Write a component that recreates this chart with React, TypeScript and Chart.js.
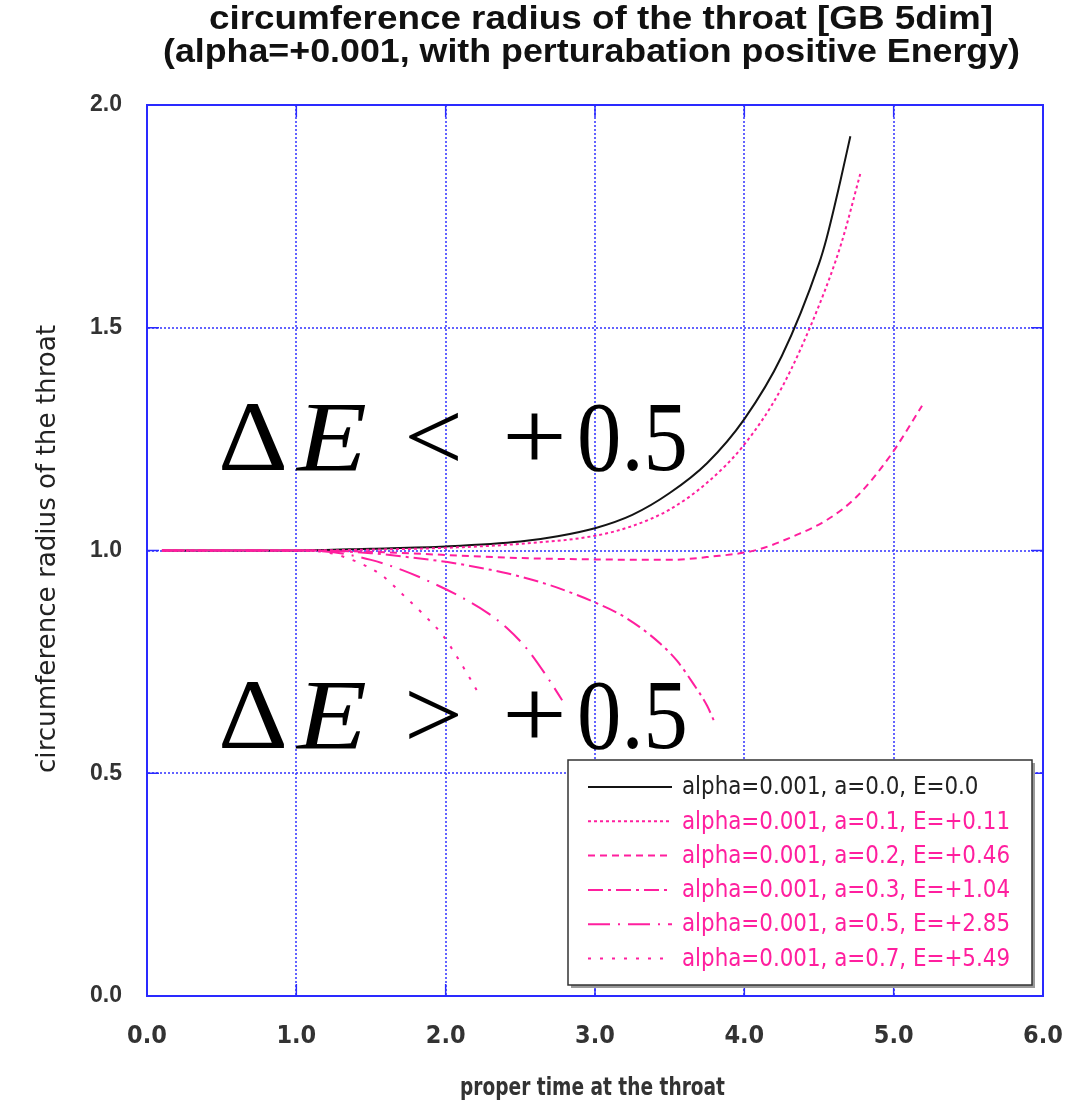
import React, { useEffect, useRef } from "react";
import { Chart, registerables } from "chart.js";

Chart.register(...registerables);

// ---------- texts ----------
const titleLines = [
  "circumference radius of the throat [GB 5dim]",
  "(alpha=+0.001, with perturabation positive Energy)",
];
const xAxisTitle = "proper time at the throat";
const yAxisTitle = "circumference radius of the throat";
const annotationUpper = ["Δ", "E", "<", "+", "0.5"];
const annotationLower = ["Δ", "E", ">", "+", "0.5"];

// ---------- ticks ----------
const xTickValues = [0, 1, 2, 3, 4, 5, 6];
const yTickValues = [0, 0.5, 1.0, 1.5, 2.0];

// ---------- series ----------
const seriesLabels = [
  "alpha=0.001, a=0.0, E=0.0",
  "alpha=0.001, a=0.1, E=+0.11",
  "alpha=0.001, a=0.2, E=+0.46",
  "alpha=0.001, a=0.3, E=+1.04",
  "alpha=0.001, a=0.5, E=+2.85",
  "alpha=0.001, a=0.7, E=+5.49",
];

const timeA00 = [0.1, 0.5, 1.0, 1.5, 2.0, 2.5, 2.75, 3.0, 3.25, 3.5, 3.75, 4.0, 4.25, 4.5, 4.55, 4.64, 4.71];
const radiusA00 = [1.0, 1.0, 1.0, 1.004, 1.009, 1.02, 1.032, 1.05, 1.08, 1.129, 1.196, 1.295, 1.436, 1.644, 1.7, 1.825, 1.93];

const timeA01 = [0.1, 0.5, 1.0, 1.5, 2.0, 2.5, 3.0, 3.25, 3.5, 3.75, 4.0, 4.25, 4.5, 4.65, 4.78];
const radiusA01 = [1.0, 1.0, 1.0, 1.002, 1.006, 1.015, 1.033, 1.055, 1.092, 1.152, 1.238, 1.365, 1.55, 1.69, 1.85];

const timeA02 = [0.1, 1.0, 1.5, 2.0, 2.5, 3.0, 3.5, 3.77, 4.08, 4.35, 4.55, 4.75, 4.98, 5.19];
const radiusA02 = [1.0, 1.0, 0.997, 0.99, 0.983, 0.98, 0.979, 0.986, 1.001, 1.035, 1.068, 1.12, 1.214, 1.325];

const timeA03 = [0.1, 1.0, 1.23, 1.5, 1.75, 2.05, 2.28, 2.41, 2.7, 2.88, 3.01, 3.15, 3.3, 3.44, 3.55, 3.66, 3.75, 3.8];
const radiusA03 = [1.0, 1.0, 0.999, 0.994, 0.985, 0.972, 0.958, 0.949, 0.922, 0.9, 0.882, 0.86, 0.828, 0.79, 0.752, 0.7, 0.652, 0.615];

const timeA05 = [0.1, 1.0, 1.25, 1.5, 1.71, 1.9, 2.1, 2.28, 2.41, 2.55, 2.68, 2.78];
const radiusA05 = [1.0, 1.0, 0.996, 0.979, 0.956, 0.929, 0.896, 0.86, 0.826, 0.777, 0.716, 0.664];

const timeA07 = [0.1, 1.0, 1.2, 1.41, 1.57, 1.71, 1.85, 1.98, 2.08, 2.18, 2.23];
const radiusA07 = [1.0, 1.0, 0.996, 0.974, 0.945, 0.902, 0.857, 0.81, 0.759, 0.703, 0.673];

const seriesTimes = [timeA00, timeA01, timeA02, timeA03, timeA05, timeA07];
const seriesRadii = [radiusA00, radiusA01, radiusA02, radiusA03, radiusA05, radiusA07];

// ---------- styles ----------
const BLACK = "#141414";
const PINK = "#ff1f9e";
const GRID_BLUE = "rgba(60,60,255,0.8)";
const AXIS_BLUE = "#2a2aff";
const seriesColors = [BLACK, PINK, PINK, PINK, PINK, PINK];
const seriesDashes: number[][] = [[], [3, 3], [7, 5], [15, 5, 3, 5], [22, 8, 2, 8], [3, 9]];

const SANS = "'Liberation Sans', Arial, Helvetica, sans-serif";
const COND = "'DejaVu Sans Condensed', 'Liberation Sans', Arial, sans-serif";
const SERIF = "'Liberation Serif', 'DejaVu Serif', serif";

function fitText(
  ctx: CanvasRenderingContext2D,
  text: string,
  font: string,
  x: number,
  y: number,
  width: number,
  color: string
) {
  ctx.save();
  ctx.font = font;
  ctx.fillStyle = color;
  ctx.textAlign = "left";
  ctx.textBaseline = "alphabetic";
  const w = ctx.measureText(text).width;
  ctx.translate(x, y);
  ctx.scale(width / w, 1);
  ctx.fillText(text, 0, 0);
  ctx.restore();
}

function drawAnnotation(ctx: CanvasRenderingContext2D, parts: string[], baseline: number) {
  const spans = [
    [218, 288],
    [297, 367],
    [404, 463],
    [502, 567],
    [577, 688],
  ];
  parts.forEach((p, i) => {
    const italic = i === 1;
    fitText(ctx, p, `${italic ? "italic " : ""}100px ${SERIF}`, spans[i][0], baseline, spans[i][1] - spans[i][0], "#000");
  });
}

const customPlugin = {
  id: "customDecor",
  beforeDraw(chart: any) {
    const { ctx, width, height } = chart;
    ctx.save();
    ctx.fillStyle = "#fff";
    ctx.fillRect(0, 0, width, height);
    ctx.restore();
  },
  afterDatasetsDraw(chart: any) {
    const { ctx, chartArea } = chart;
    const { left, top, right, bottom } = chartArea;
    const xs = chart.scales.x;
    const ys = chart.scales.y;

    ctx.save();
    ctx.strokeStyle = AXIS_BLUE;
    ctx.lineWidth = 2;
    ctx.setLineDash([]);
    ctx.strokeRect(left, top, right - left, bottom - top);
    ctx.lineWidth = 1.5;
    ctx.beginPath();
    xTickValues.forEach((v) => {
      const px = xs.getPixelForValue(v);
      ctx.moveTo(px, bottom);
      ctx.lineTo(px, bottom - 12);
      ctx.moveTo(px, top);
      ctx.lineTo(px, top + 12);
    });
    yTickValues.forEach((v) => {
      const py = ys.getPixelForValue(v);
      ctx.moveTo(left, py);
      ctx.lineTo(left + 12, py);
      ctx.moveTo(right, py);
      ctx.lineTo(right - 12, py);
    });
    ctx.stroke();
    ctx.restore();

    drawAnnotation(ctx, annotationUpper, 470);
    drawAnnotation(ctx, annotationLower, 748);

    // legend
    const bx = 568, by = 760, bw = 464, bh = 225;
    ctx.save();
    ctx.fillStyle = "#9a9a9a";
    ctx.fillRect(bx + 3, by + 3, bw, bh);
    ctx.fillStyle = "#fff";
    ctx.fillRect(bx, by, bw, bh);
    ctx.strokeStyle = "#333";
    ctx.lineWidth = 1.5;
    ctx.strokeRect(bx, by, bw, bh);
    const legendFont = `24px ${COND}`;
    ctx.font = legendFont;
    const refW = ctx.measureText(seriesLabels[1]).width;
    const sx = 328 / refW;
    seriesLabels.forEach((lab, i) => {
      const cy = 787 + i * 34.3;
      ctx.save();
      ctx.strokeStyle = seriesColors[i];
      ctx.lineWidth = 2;
      ctx.setLineDash(seriesDashes[i]);
      ctx.beginPath();
      ctx.moveTo(588, cy);
      ctx.lineTo(672, cy);
      ctx.stroke();
      ctx.restore();
      ctx.save();
      ctx.font = legendFont;
      ctx.fillStyle = i === 0 ? "#222" : PINK;
      ctx.textBaseline = "middle";
      ctx.translate(682, cy + 1);
      ctx.scale(sx, 1);
      ctx.fillText(lab, 0, 0);
      ctx.restore();
    });
    ctx.restore();

    // titles
    fitText(ctx, titleLines[0], `bold 33px ${SANS}`, 209, 29, 784, "#111");
    fitText(ctx, titleLines[1], `bold 33px ${SANS}`, 163, 62, 857, "#111");
    fitText(ctx, xAxisTitle, `bold 24px ${COND}`, 460, 1095, 265, "#333");
    ctx.save();
    ctx.translate(55, 773);
    ctx.rotate(-Math.PI / 2);
    fitText(ctx, yAxisTitle, `26px ${COND}`, 0, 0, 448, "#222");
    ctx.restore();
  },
};

export default function App() {
  const ref = useRef<HTMLCanvasElement>(null);
  useEffect(() => {
    const datasets = seriesLabels.map((label, i) => ({
      label,
      data: seriesTimes[i].map((t, j) => ({ x: t, y: seriesRadii[i][j] })),
      borderColor: seriesColors[i],
      backgroundColor: seriesColors[i],
      borderWidth: 2,
      borderDash: seriesDashes[i],
      showLine: true,
      pointRadius: 0,
      pointHoverRadius: 0,
      cubicInterpolationMode: "monotone" as const,
      fill: false,
    }));
    const chart = new Chart(ref.current!, {
      type: "scatter",
      data: { datasets: datasets.slice().reverse() },
      options: {
        responsive: false,
        animation: false,
        events: [],
        layout: { padding: { left: 0, right: 40, top: 105, bottom: 0 } },
        plugins: {
          legend: { display: false },
          title: { display: false },
          tooltip: { enabled: false },
        },
        scales: {
          x: {
            type: "linear",
            min: 0,
            max: 6,
            afterFit: (s: any) => {
              s.height = 108;
              s.paddingLeft = 0;
              s.paddingRight = 0;
            },
            afterBuildTicks: (s: any) => {
              s.ticks = xTickValues.map((v) => ({ value: v }));
            },
            ticks: {
              autoSkip: false,
              maxRotation: 0,
              padding: 25,
              color: "#333",
              font: { family: COND, size: 25, weight: "bold" },
              callback: (v: any) => Number(v).toFixed(1),
            },
            grid: { color: GRID_BLUE, lineWidth: 2, drawTicks: false },
            border: { display: true, color: AXIS_BLUE, width: 2, dash: [2, 2] },
          },
          y: {
            type: "linear",
            min: 0,
            max: 2,
            afterFit: (s: any) => {
              s.width = 147;
              s.paddingTop = 0;
              s.paddingBottom = 0;
            },
            afterBuildTicks: (s: any) => {
              s.ticks = yTickValues.map((v) => ({ value: v }));
            },
            ticks: {
              autoSkip: false,
              padding: 25,
              color: "#333",
              font: { family: SANS, size: 23, weight: "bold" },
              callback: (v: any) => Number(v).toFixed(1),
            },
            grid: { color: GRID_BLUE, lineWidth: 2, drawTicks: false },
            border: { display: true, color: AXIS_BLUE, width: 2, dash: [2, 2] },
          },
        },
      },
      plugins: [customPlugin],
    } as any);
    return () => chart.destroy();
  }, []);
  return (
    <div style={{ position: "fixed", left: 0, top: 0, width: 1083, height: 1104, background: "#fff" }}>
      <canvas ref={ref} width={1083} height={1104} style={{ display: "block", width: 1083, height: 1104 }} />
    </div>
  );
}
